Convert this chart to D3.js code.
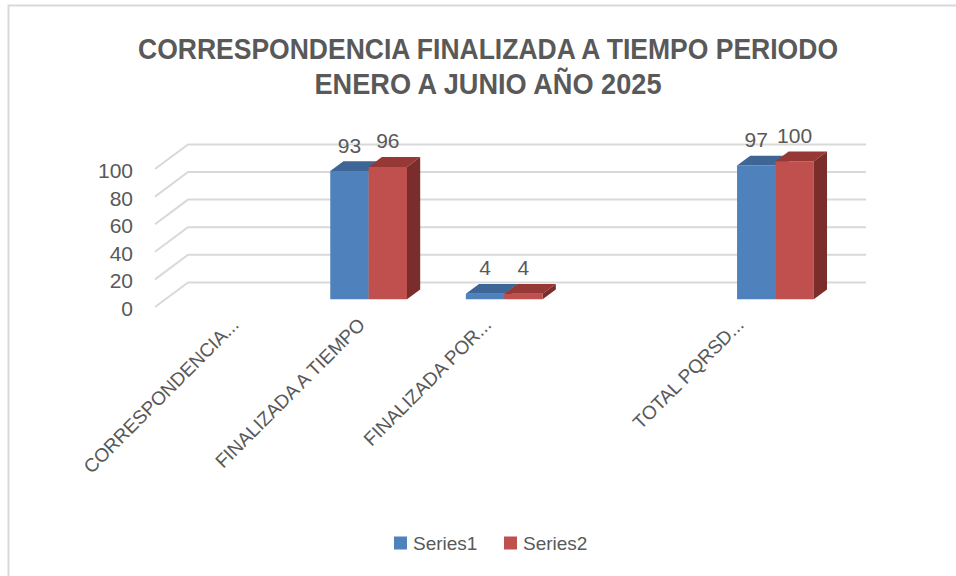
<!DOCTYPE html>
<html>
<head>
<meta charset="utf-8">
<script src="https://cdn.jsdelivr.net/npm/d3@7"></script>
<style>
  body { margin: 0; background: #fff; }
  text { font-family: "Liberation Sans", Arial, sans-serif; fill: #595959; }
</style>
</head>
<body>
<script>
// data
var categories = ["CORRESPONDENCIA...", "FINALIZADA A TIEMPO", "FINALIZADA POR...", "", "TOTAL PQRSD..."];
var series = ["Series1", "Series2"];
var series1 = [null, 93, 4, null, 97];
var series2 = [null, 96, 4, null, 100];
var yTicks = [0, 20, 40, 60, 80, 100];
var titleLines = ["CORRESPONDENCIA FINALIZADA A TIEMPO PERIODO", "ENERO A JUNIO AÑO 2025"];

var width = 956, height = 576;
var colors = {
  Series1: { front: "#4f81bd", top: "#3d6596", side: "#365b87" },
  Series2: { front: "#c0504d", top: "#953836", side: "#7b2d2b" }
};

var svg = d3.select("body").append("svg")
    .attr("width", width)
    .attr("height", height);

// frame
svg.append("rect")
    .attr("x", 8.5).attr("y", 5.5)
    .attr("width", 960).attr("height", 600)
    .attr("fill", "none")
    .attr("stroke", "#d9d9d9")
    .attr("stroke-width", 2);

// title
svg.selectAll(".title")
    .data(titleLines)
  .enter().append("text")
    .attr("x", 488)
    .attr("y", function(d, i) { return i == 0 ? 58.5 : 94; })
    .attr("text-anchor", "middle")
    .attr("font-size", 29)
    .attr("font-weight", "bold")
    .attr("textLength", function(d, i) { return i == 0 ? 700 : 347; })
    .attr("lengthAdjust", "spacingAndGlyphs")
    .text(function(d) { return d; });

// oblique 3d projection
var DX = 33, DY = -24.6;
var x0 = d3.scaleBand().domain(categories).range([155, 833]);
var groupW = x0.bandwidth() * 0.566;
var x1 = d3.scaleBand().domain(series).range([0, groupW]);
var y = d3.scaleLinear().domain([0, 100]).range([307, 169]);
var labelX = d3.scalePoint().domain(categories).range([240, 745]);

function proj(x, v, z) {
  return [x + z * DX, y(v) + z * DY];
}
function poly(pts) {
  return pts.map(function(p) { return p.join(","); }).join(" ");
}

// back wall gridlines + side diagonals
var grid = svg.append("g")
    .attr("stroke", "#d9d9d9")
    .attr("stroke-width", 2)
    .attr("fill", "none");
yTicks.forEach(function(v) {
  var a = proj(155, v, 0), b = proj(155, v, 1), c = proj(833, v, 1);
  grid.append("polyline").attr("points", poly([a, b, c]));
});

// y tick labels
svg.selectAll(".ytick")
    .data(yTicks)
  .enter().append("text")
    .attr("x", 133)
    .attr("y", function(d) { return y(d) + 9; })
    .attr("text-anchor", "end")
    .attr("font-size", 21)
    .text(function(d) { return d; });

// bars
var z0 = 0.31, z1 = 0.71;
var values = { Series1: series1, Series2: series2 };
var bars = svg.append("g");
var labels = [];

categories.forEach(function(c, i) {
  series.forEach(function(s) {
    var v = values[s][i];
    if (v == null) return;
    var xl = x0(c) + (x0.bandwidth() - groupW) / 2 + x1(s),
        xr = xl + x1.bandwidth();
    bars.append("polygon")
        .attr("points", poly([proj(xl, 0, z0), proj(xr, 0, z0), proj(xr, v, z0), proj(xl, v, z0)]))
        .attr("fill", colors[s].front);
    bars.append("polygon")
        .attr("points", poly([proj(xl, v, z0), proj(xr, v, z0), proj(xr, v, z1), proj(xl, v, z1)]))
        .attr("fill", colors[s].top);
    bars.append("polygon")
        .attr("points", poly([proj(xr, 0, z0), proj(xr, v, z0), proj(xr, v, z1), proj(xr, 0, z1)]))
        .attr("fill", colors[s].side);
    var p = proj((xl + xr) / 2, v, z0);
    labels.push({ x: p[0], y: p[1] - 18.5, v: v });
  });
});

// data labels
svg.selectAll(".dlabel")
    .data(labels)
  .enter().append("text")
    .attr("x", function(d) { return d.x; })
    .attr("y", function(d) { return d.y; })
    .attr("text-anchor", "middle")
    .attr("font-size", 21)
    .text(function(d) { return d.v; });

// category labels
svg.selectAll(".xlabel")
    .data(categories)
  .enter().append("text")
    .attr("transform", function(d) { return "translate(" + labelX(d) + ",326) rotate(-45)"; })
    .attr("text-anchor", "end")
    .attr("font-size", 19)
    .text(function(d) { return d; });

// legend
var legend = svg.selectAll(".legend")
    .data(series)
  .enter().append("g")
    .attr("transform", function(d, i) { return "translate(" + (394 + i * 110) + ",0)"; });
legend.append("rect")
    .attr("x", 0).attr("y", 536.5)
    .attr("width", 13).attr("height", 13)
    .attr("fill", function(d) { return colors[d].front; });
legend.append("text")
    .attr("x", 19).attr("y", 550)
    .attr("font-size", 19)
    .text(function(d) { return d; });
</script>
</body>
</html>
